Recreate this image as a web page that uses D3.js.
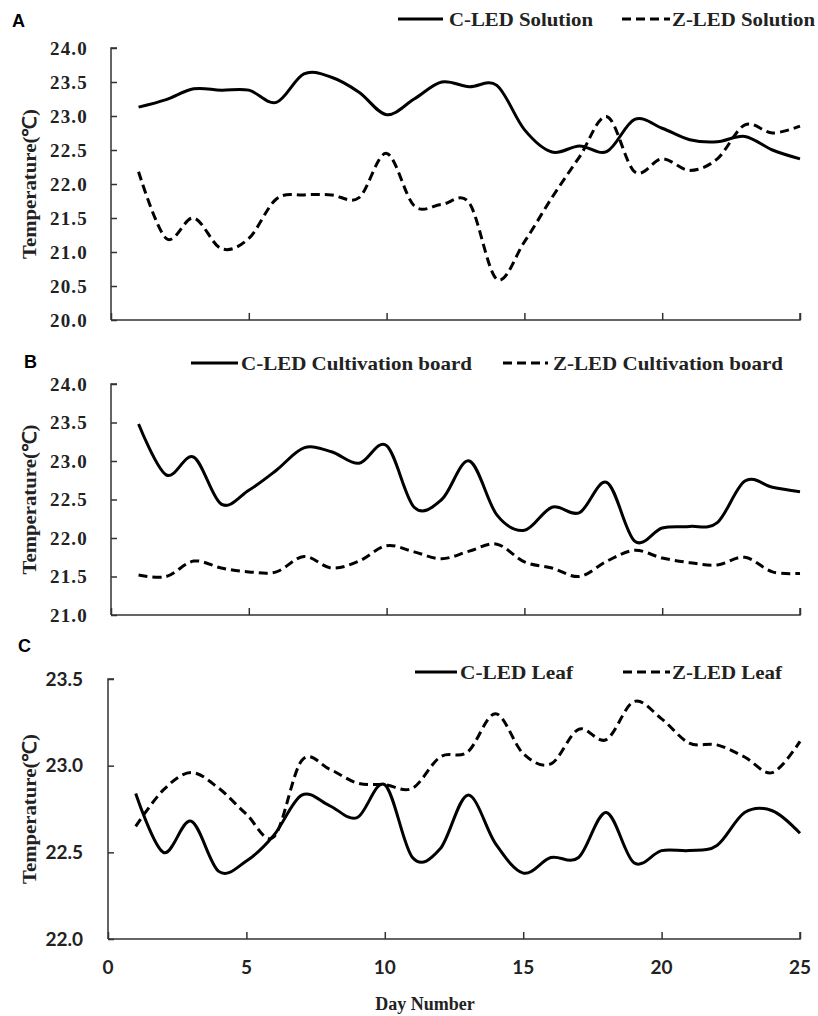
<!DOCTYPE html>
<html>
<head>
<meta charset="utf-8">
<script src="https://cdn.jsdelivr.net/npm/d3@7"></script>
<style>
  body { margin: 0; background: #fff; }
  svg { display: block; }
</style>
</head>
<body>
<div id="chart"></div>
<script>
var days = d3.range(1, 26);

var cSolution = [23.13, 23.24, 23.4, 23.38, 23.38, 23.2, 23.62, 23.57, 23.35, 23.02, 23.25, 23.5, 23.43, 23.45, 22.8,
                 22.47, 22.56, 22.48, 22.95, 22.82, 22.65, 22.62, 22.7, 22.5, 22.37];
var zSolution = [22.18, 21.2, 21.5, 21.05, 21.2, 21.78, 21.84, 21.84, 21.8, 22.45, 21.68, 21.7, 21.72, 20.6, 21.15,
                 21.8, 22.4, 22.99, 22.18, 22.37, 22.2, 22.37, 22.87, 22.75, 22.85];
var cBoard = [23.48, 22.82, 23.05, 22.44, 22.62, 22.88, 23.17, 23.12, 22.97, 23.2, 22.4, 22.5, 23.0, 22.3, 22.1,
              22.4, 22.33, 22.72, 21.96, 22.13, 22.15, 22.2, 22.74, 22.66, 22.6];
var zBoard = [21.52, 21.5, 21.7, 21.61, 21.56, 21.56, 21.76, 21.61, 21.7, 21.9, 21.82, 21.73, 21.83, 21.92, 21.69,
              21.61, 21.5, 21.7, 21.84, 21.74, 21.68, 21.65, 21.75, 21.56, 21.54];
var cLeaf = [22.84, 22.5, 22.68, 22.39, 22.45, 22.6, 22.83, 22.77, 22.7, 22.89, 22.47, 22.52, 22.83, 22.55, 22.38,
             22.47, 22.47, 22.73, 22.44, 22.51, 22.51, 22.54, 22.73, 22.74, 22.61];
var zLeaf = [22.65, 22.86, 22.96, 22.87, 22.72, 22.59, 23.03, 22.98, 22.9, 22.89, 22.87, 23.05, 23.08, 23.3, 23.07,
             23.01, 23.21, 23.15, 23.37, 23.27, 23.13, 23.12, 23.05, 22.96, 23.14];

var xTicks = [0, 5, 10, 15, 20, 25];
var ticksA = [20, 20.5, 21, 21.5, 22, 22.5, 23, 23.5, 24];
var ticksB = [21, 21.5, 22, 22.5, 23, 23.5, 24];
var ticksC = [22, 22.5, 23, 23.5];

var W = 818, H = 1016;
var serif = "'Liberation Serif', 'Times New Roman', serif";
var sans = "Lato, 'Open Sans', sans-serif";

var svg = d3.select("#chart").append("svg")
    .attr("width", W)
    .attr("height", H);

var panels = [
    { letter: "A", lx: 12, ly: 27, x0: 111, top: 48, bottom: 320, domain: [20, 24], ticks: ticksA,
      c: cSolution, z: zSolution, tickFont: serif, tickSize: "19px", tickEnd: 88, labels: false,
      legend: { y: 19, c: [398, 443, 449, 144, "C-LED Solution"], z: [622, 670, 672, 143, "Z-LED Solution"] } },
    { letter: "B", lx: 24, ly: 368, x0: 111, top: 384, bottom: 615, domain: [21, 24], ticks: ticksB,
      c: cBoard, z: zBoard, tickFont: serif, tickSize: "19px", tickEnd: 88, labels: false,
      legend: { y: 363, c: [191, 238, 241, 231, "C-LED Cultivation board"], z: [503, 548, 553, 230, "Z-LED Cultivation board"] } },
    { letter: "C", lx: 18, ly: 652, x0: 108, top: 679, bottom: 939, domain: [22, 23.5], ticks: ticksC,
      c: cLeaf, z: zLeaf, tickFont: sans, tickSize: "19px", tickEnd: 83, labels: true,
      legend: { y: 672, c: [415, 457, 460, 113, "C-LED Leaf"], z: [623, 670, 672, 110, "Z-LED Leaf"] } }
];

panels.forEach(function(p) {
    var x = d3.scaleLinear().domain([0, 25]).range([p.x0, 800]);
    var y = d3.scaleLinear().domain(p.domain).range([p.bottom, p.top]);
    var g = svg.append("g");

    // panel letter
    g.append("text")
        .attr("x", p.lx).attr("y", p.ly)
        .style("font-family", "'Liberation Sans', Arial, sans-serif")
        .style("font-weight", "bold")
        .style("font-size", "18px")
        .text(p.letter);

    // y axis, ticks point inward
    var yAxis = g.append("g")
        .attr("transform", "translate(" + p.x0 + ",0)")
        .call(d3.axisRight(y).tickValues(p.ticks).tickSize(6).tickFormat(""));
    yAxis.select(".domain").attr("d", "M6," + p.top + "H0V" + p.bottom);

    // x axis, ticks point up
    var xAxis = g.append("g")
        .attr("transform", "translate(0," + p.bottom + ")")
        .call(d3.axisTop(x).tickValues(xTicks).tickSize(7).tickFormat(""));
    xAxis.select(".domain").attr("d", "M" + p.x0 + ",0H800V-7");

    g.selectAll(".domain, .tick line")
        .attr("stroke", "#333")
        .attr("stroke-width", 1.5);

    g.selectAll(".ylab").data(p.ticks).enter().append("text")
        .attr("x", p.tickEnd)
        .attr("y", function(d) { return y(d); })
        .attr("dy", "0.35em")
        .attr("text-anchor", "end")
        .style("font-family", p.tickFont)
        .style("font-weight", "bold")
        .style("font-size", p.tickSize)
        .style("letter-spacing", p.labels ? "0px" : "1.2px")
        .attr("fill", "#222")
        .text(function(d) { return d.toFixed(1); });

    if (p.labels) {
        g.selectAll(".xlab").data(xTicks).enter().append("text")
            .attr("x", function(d) { return x(d); })
            .attr("y", p.bottom + 35)
            .attr("text-anchor", "middle")
            .style("font-family", sans)
            .style("font-weight", "bold")
            .style("font-size", "19px")
            .attr("fill", "#222")
            .text(function(d) { return d; });

        g.append("text")
            .attr("x", 425).attr("y", 1010)
            .attr("text-anchor", "middle")
            .style("font-family", serif)
            .style("font-weight", "bold")
            .style("font-size", "18px")
            .attr("fill", "#222")
            .text("Day Number");
    }

    var cy = (p.top + p.bottom) / 2;
    g.append("text")
        .attr("transform", "translate(36," + cy + ") rotate(-90)")
        .attr("text-anchor", "middle")
        .attr("textLength", 150)
        .attr("lengthAdjust", "spacingAndGlyphs")
        .style("font-family", serif)
        .style("font-weight", "bold")
        .style("font-size", "19px")
        .attr("fill", "#222")
        .text("Temperature(℃)");

    var line = d3.line()
        .x(function(d, i) { return x(days[i]); })
        .y(function(d) { return y(d); })
        .curve(d3.curveCardinal.tension(0));

    g.append("path").datum(p.c)
        .attr("d", line)
        .attr("fill", "none")
        .attr("stroke", "#000")
        .attr("stroke-width", 3);

    g.append("path").datum(p.z)
        .attr("d", line)
        .attr("fill", "none")
        .attr("stroke", "#000")
        .attr("stroke-width", 3)
        .attr("stroke-dasharray", "9,5");

    // legend
    var lg = p.legend;
    [[lg.c, null], [lg.z, "9,5"]].forEach(function(item) {
        var e = item[0];
        g.append("line")
            .attr("x1", e[0]).attr("x2", e[1])
            .attr("y1", lg.y).attr("y2", lg.y)
            .attr("stroke", "#000")
            .attr("stroke-width", 3)
            .attr("stroke-dasharray", item[1]);
        g.append("text")
            .attr("x", e[2]).attr("y", lg.y)
            .attr("dy", "0.35em")
            .attr("textLength", e[3])
            .attr("lengthAdjust", "spacingAndGlyphs")
            .style("font-family", serif)
            .style("font-weight", "bold")
            .style("font-size", "19px")
            .attr("fill", "#222")
            .text(e[4]);
    });
});
</script>
</body>
</html>
